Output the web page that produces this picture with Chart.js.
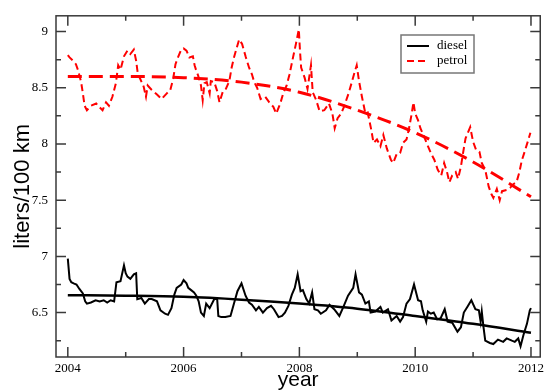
<!DOCTYPE html>
<html>
<head>
<meta charset="utf-8">
<script src="https://cdn.jsdelivr.net/npm/chart.js@4/dist/chart.umd.min.js"></script>
<style>
body { margin: 0; background: #fff; }
#graficas { width: 548px; height: 392px; }
</style>
</head>
<body>
<div id="graficas"><canvas id="canvasGraficas"></canvas></div>
<script>
// consumo de combustible, litros/100 km
var dieselYears = [2004.00, 2004.03, 2004.06, 2004.10, 2004.15, 2004.20, 2004.26, 2004.30, 2004.33, 2004.40,
    2004.48, 2004.55, 2004.62, 2004.68, 2004.74, 2004.80, 2004.84, 2004.91, 2004.97, 2005.00,
    2005.03, 2005.08, 2005.14, 2005.18, 2005.20, 2005.27, 2005.33, 2005.40, 2005.45, 2005.54,
    2005.60, 2005.68, 2005.73, 2005.79, 2005.84, 2005.88, 2005.96, 2006.00, 2006.05, 2006.08,
    2006.13, 2006.18, 2006.22, 2006.26, 2006.30, 2006.35, 2006.39, 2006.45, 2006.53, 2006.58,
    2006.60, 2006.65, 2006.72, 2006.81, 2006.87, 2006.93, 2007.00, 2007.07, 2007.13, 2007.18,
    2007.25, 2007.30, 2007.37, 2007.44, 2007.51, 2007.56, 2007.64, 2007.70, 2007.75, 2007.81,
    2007.87, 2007.92, 2007.97, 2008.02, 2008.06, 2008.12, 2008.17, 2008.22, 2008.26, 2008.32,
    2008.37, 2008.46, 2008.52, 2008.60, 2008.69, 2008.76, 2008.84, 2008.93, 2008.97, 2009.03,
    2009.08, 2009.14, 2009.20, 2009.23, 2009.31, 2009.40, 2009.44, 2009.53, 2009.59, 2009.68,
    2009.74, 2009.79, 2009.85, 2009.91, 2009.98, 2010.05, 2010.10, 2010.13, 2010.19, 2010.22,
    2010.27, 2010.32, 2010.38, 2010.44, 2010.51, 2010.56, 2010.64, 2010.73, 2010.79, 2010.84,
    2010.90, 2010.97, 2011.04, 2011.10, 2011.13, 2011.15, 2011.18, 2011.21, 2011.29, 2011.35,
    2011.43, 2011.52, 2011.58, 2011.67, 2011.72, 2011.78, 2011.82, 2011.87, 2011.93, 2011.98,
    2012.00];
var dieselFuel = [6.98, 6.80, 6.77, 6.76, 6.75, 6.71, 6.67, 6.60, 6.58, 6.59,
    6.61, 6.60, 6.61, 6.59, 6.61, 6.60, 6.77, 6.78, 6.92, 6.85,
    6.82, 6.80, 6.84, 6.85, 6.62, 6.63, 6.58, 6.62, 6.62, 6.60,
    6.52, 6.49, 6.48, 6.54, 6.66, 6.72, 6.75, 6.79, 6.76, 6.72,
    6.70, 6.68, 6.65, 6.60, 6.50, 6.47, 6.58, 6.54, 6.62, 6.62,
    6.47, 6.46, 6.46, 6.47, 6.58, 6.69, 6.76, 6.65, 6.59, 6.57,
    6.52, 6.55, 6.50, 6.54, 6.56, 6.53, 6.46, 6.47, 6.50, 6.56,
    6.66, 6.72, 6.84, 6.69, 6.70, 6.62, 6.58, 6.68, 6.53, 6.52,
    6.49, 6.52, 6.57, 6.53, 6.47, 6.55, 6.65, 6.72, 6.84, 6.68,
    6.66, 6.58, 6.60, 6.50, 6.51, 6.55, 6.50, 6.53, 6.43, 6.47,
    6.42, 6.46, 6.58, 6.62, 6.75, 6.61, 6.60, 6.52, 6.42, 6.51,
    6.49, 6.50, 6.44, 6.45, 6.53, 6.42, 6.41, 6.33, 6.37, 6.50,
    6.55, 6.61, 6.53, 6.52, 6.42, 6.51, 6.37, 6.25, 6.23, 6.22,
    6.26, 6.24, 6.27, 6.25, 6.24, 6.27, 6.20, 6.30, 6.40, 6.52,
    6.54];

var petrolYears = [2004.00, 2004.03, 2004.09, 2004.14, 2004.18, 2004.23, 2004.26, 2004.29, 2004.33, 2004.40,
    2004.49, 2004.54, 2004.60, 2004.66, 2004.71, 2004.77, 2004.83, 2004.87, 2004.91, 2004.97,
    2005.03, 2005.08, 2005.14, 2005.18, 2005.21, 2005.25, 2005.31, 2005.35, 2005.38, 2005.45,
    2005.54, 2005.62, 2005.71, 2005.77, 2005.82, 2005.86, 2005.91, 2005.96, 2006.00, 2006.05,
    2006.10, 2006.16, 2006.19, 2006.22, 2006.25, 2006.30, 2006.33, 2006.36, 2006.40, 2006.45,
    2006.47, 2006.53, 2006.58, 2006.62, 2006.68, 2006.73, 2006.79, 2006.83, 2006.87, 2006.92,
    2006.96, 2007.01, 2007.07, 2007.13, 2007.18, 2007.22, 2007.27, 2007.33, 2007.41, 2007.48,
    2007.55, 2007.60, 2007.67, 2007.72, 2007.78, 2007.83, 2007.89, 2007.94, 2007.99, 2008.01,
    2008.03, 2008.09, 2008.14, 2008.20, 2008.23, 2008.29, 2008.35, 2008.43, 2008.51, 2008.57,
    2008.61, 2008.66, 2008.72, 2008.77, 2008.85, 2008.90, 2008.96, 2008.99, 2009.03, 2009.08,
    2009.14, 2009.18, 2009.24, 2009.28, 2009.34, 2009.40, 2009.45, 2009.51, 2009.58, 2009.62,
    2009.68, 2009.74, 2009.79, 2009.85, 2009.89, 2009.94, 2009.97, 2010.00, 2010.05, 2010.09,
    2010.15, 2010.22, 2010.27, 2010.33, 2010.39, 2010.45, 2010.50, 2010.55, 2010.59, 2010.64,
    2010.70, 2010.74, 2010.79, 2010.83, 2010.87, 2010.91, 2010.95, 2011.00, 2011.05, 2011.11,
    2011.15, 2011.21, 2011.27, 2011.32, 2011.35, 2011.41, 2011.46, 2011.50, 2011.58, 2011.64,
    2011.69, 2011.75, 2011.80, 2011.84, 2011.89, 2011.95, 2011.99];
var petrolFuel = [8.79, 8.77, 8.74, 8.71, 8.65, 8.55, 8.45, 8.34, 8.30, 8.34,
    8.36, 8.33, 8.30, 8.37, 8.34, 8.42, 8.54, 8.70, 8.66, 8.78,
    8.83, 8.80, 8.84, 8.74, 8.62, 8.58, 8.51, 8.42, 8.52, 8.48,
    8.44, 8.40, 8.45, 8.48, 8.58, 8.71, 8.78, 8.84, 8.85, 8.83,
    8.77, 8.78, 8.70, 8.65, 8.61, 8.52, 8.39, 8.54, 8.55, 8.45,
    8.56, 8.55, 8.47, 8.37, 8.47, 8.49, 8.56, 8.68, 8.77, 8.86,
    8.93, 8.89, 8.78, 8.68, 8.62, 8.55, 8.50, 8.40, 8.42, 8.37,
    8.33, 8.27, 8.36, 8.45, 8.52, 8.62, 8.77, 8.89, 9.02, 8.83,
    8.68, 8.59, 8.49, 8.70, 8.46, 8.39, 8.29, 8.30, 8.36, 8.27,
    8.14, 8.23, 8.27, 8.33, 8.45, 8.54, 8.65, 8.70, 8.56, 8.42,
    8.27, 8.28, 8.13, 8.01, 8.04, 7.98, 8.08, 7.96, 7.86, 7.83,
    7.91, 7.92, 8.01, 8.04, 8.13, 8.27, 8.37, 8.27, 8.21, 8.14,
    8.07, 7.98, 7.92, 7.86, 7.77, 7.72, 7.83, 7.75, 7.66, 7.72,
    7.75, 7.69, 7.80, 7.93, 8.05, 8.10, 8.15, 8.02, 7.95, 7.93,
    7.83, 7.77, 7.62, 7.55, 7.52, 7.60, 7.50, 7.58, 7.59, 7.61,
    7.64, 7.66, 7.75, 7.85, 7.93, 8.03, 8.10];

// tendencias
var trendYears = [2004, 2005, 2006, 2007, 2008, 2009, 2010, 2011, 2012];
var dieselTrend = [6.655, 6.65, 6.64, 6.615, 6.58, 6.535, 6.47, 6.40, 6.32];
var petrolTrend = [8.60, 8.60, 8.59, 8.55, 8.46, 8.30, 8.10, 7.84, 7.53];

var seriesLabels = ["diesel", "petrol"];
var xTitle = "year";
var yTitle = "liters/100 km";

function puntos(xs, ys) {
    var lista = [];
    for (var i = 0; i < xs.length; i++) {
        lista.push({x: xs[i], y: ys[i]});
    }
    return lista;
}

var colorEje = '#3a3a3a';

// marco y marcas hacia adentro en los cuatro lados
var marcoEjes = {
    id: 'marcoEjes',
    afterDatasetsDraw: function (chart) {
        var ctx = chart.ctx;
        var a = chart.chartArea;
        var sx = chart.scales.x;
        var sy = chart.scales.y;
        ctx.save();
        ctx.strokeStyle = colorEje;
        ctx.lineWidth = 1.5;
        ctx.strokeRect(a.left, a.top, a.right - a.left, a.bottom - a.top);
        ctx.beginPath();
        function conMenores(scale) {
            var v = scale.ticks.map(function (t) { return t.value; });
            var menores = [];
            var paso = v[1] - v[0];
            var todos = [v[0] - paso].concat(v);
            for (var i = 0; i < todos.length; i++) {
                var m = todos[i] + paso / 2;
                if (m > scale.min && m < scale.max) menores.push(m);
            }
            return {mayores: v, menores: menores};
        }
        var tx = conMenores(sx);
        var ty = conMenores(sy);
        function marcaX(val, largo) {
            var px = sx.getPixelForValue(val);
            ctx.moveTo(px, a.bottom); ctx.lineTo(px, a.bottom - largo);
            ctx.moveTo(px, a.top); ctx.lineTo(px, a.top + largo);
        }
        function marcaY(val, largo) {
            var py = sy.getPixelForValue(val);
            ctx.moveTo(a.left, py); ctx.lineTo(a.left + largo, py);
            ctx.moveTo(a.right, py); ctx.lineTo(a.right - largo, py);
        }
        tx.mayores.forEach(function (v) { marcaX(v, 10); });
        tx.menores.forEach(function (v) { marcaX(v, 5); });
        ty.mayores.forEach(function (v) { marcaY(v, 10); });
        ty.menores.forEach(function (v) { marcaY(v, 5); });
        ctx.stroke();
        ctx.restore();
    }
};

// leyenda flotante dentro del area
var leyenda = {
    id: 'leyenda',
    afterDraw: function (chart) {
        var ctx = chart.ctx;
        var x0 = 401, y0 = 35, w = 73, h = 38;
        ctx.save();
        ctx.fillStyle = '#fff';
        ctx.fillRect(x0, y0, w, h);
        ctx.strokeStyle = '#777';
        ctx.lineWidth = 1.5;
        ctx.strokeRect(x0, y0, w, h);
        var fila = 0;
        chart.data.datasets.forEach(function (ds) {
            if (!ds.enLeyenda) return;
            var y = y0 + 11 + fila * 15;
            ctx.beginPath();
            ctx.strokeStyle = ds.borderColor;
            ctx.lineWidth = ds.borderWidth;
            ctx.setLineDash(ds.borderDash || []);
            ctx.moveTo(x0 + 6, y);
            ctx.lineTo(x0 + 28, y);
            ctx.stroke();
            ctx.setLineDash([]);
            ctx.fillStyle = '#000';
            ctx.font = '13px "Liberation Serif", serif';
            ctx.textBaseline = 'middle';
            ctx.textAlign = 'left';
            ctx.fillText(ds.label, x0 + 36, y);
            fila++;
        });
        ctx.restore();
    }
};

var datosGrafica = {
    datasets: [
        {
            label: seriesLabels[0] + " trend",
            data: puntos(trendYears, dieselTrend),
            borderColor: '#000',
            borderWidth: 2.5,
            cubicInterpolationMode: 'monotone'
        },
        {
            label: seriesLabels[1] + " trend",
            data: puntos(trendYears, petrolTrend),
            borderColor: '#ff0000',
            borderWidth: 3,
            borderDash: [14, 7],
            cubicInterpolationMode: 'monotone'
        },
        {
            label: seriesLabels[0],
            enLeyenda: true,
            data: puntos(dieselYears, dieselFuel),
            borderColor: '#000',
            borderWidth: 2
        },
        {
            label: seriesLabels[1],
            enLeyenda: true,
            data: puntos(petrolYears, petrolFuel),
            borderColor: '#ff0000',
            borderWidth: 2,
            borderDash: [7, 4]
        }
    ]
};

var canvasGraficas = document.getElementById("canvasGraficas");
var myLineChart = new Chart(canvasGraficas, {
    type: 'line',
    data: datosGrafica,
    options: {
        responsive: true,
        maintainAspectRatio: false,
        animation: false,
        layout: { padding: { top: 11, right: 1, left: 0, bottom: 0 } },
        elements: {
            point: { radius: 0 },
            line: { tension: 0, fill: false }
        },
        plugins: {
            legend: { display: false },
            tooltip: { enabled: false }
        },
        scales: {
            x: {
                type: 'linear',
                min: 2003.796,
                max: 2012.16,
                grid: { display: false, drawTicks: false },
                border: { display: false },
                ticks: {
                    stepSize: 2,
                    includeBounds: false,
                    maxRotation: 0,
                    padding: 4,
                    color: '#000',
                    font: { family: '"Liberation Serif", serif', size: 13 },
                    callback: function (v) { return String(v); }
                },
                title: {
                    display: true,
                    text: xTitle,
                    color: '#000',
                    font: { family: '"Liberation Sans", Arial, sans-serif', size: 21 },
                    padding: { top: 0, bottom: -1 }
                },
                afterFit: function (scale) { scale.height = 35; }
            },
            y: {
                type: 'linear',
                min: 6.105,
                max: 9.14,
                grid: { display: false, drawTicks: false },
                border: { display: false },
                ticks: {
                    stepSize: 0.5,
                    includeBounds: false,
                    padding: 8,
                    color: '#000',
                    font: { family: '"Liberation Serif", serif', size: 13 },
                    callback: function (v) { return String(v); }
                },
                title: {
                    display: true,
                    text: yTitle,
                    color: '#000',
                    font: { family: '"Liberation Sans", Arial, sans-serif', size: 22 },
                    padding: { top: 10, bottom: 0 }
                },
                afterFit: function (scale) { scale.width = 56; }
            }
        }
    },
    plugins: [marcoEjes, leyenda]
});
</script>
</body>
</html>
